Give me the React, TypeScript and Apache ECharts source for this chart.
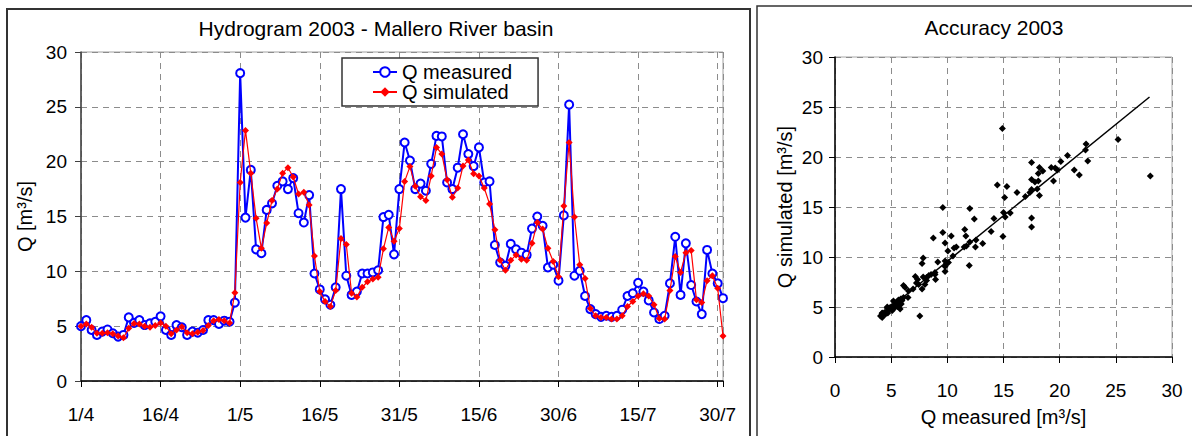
import React, { useEffect, useRef } from "react";
import * as echarts from "echarts";

const dayLabels = ["1/4", "16/4", "1/5", "16/5", "31/5", "15/6", "30/6", "15/7", "30/7"];

const measured = [
  5.0, 5.55, 4.65, 4.2, 4.5, 4.7, 4.35, 4.05, 4.2, 5.8,
  5.3, 5.55, 5.1, 5.25, 5.4, 5.9, 4.65, 4.2, 5.1, 4.9,
  4.2, 4.5, 4.4, 4.65, 5.55, 5.55, 5.2, 5.5, 5.4, 7.15,
  28.07, 14.9, 19.25, 12.0, 11.65, 15.6, 16.2, 17.8, 18.2, 17.5,
  18.5, 15.3, 14.45, 16.95, 9.8, 8.35, 7.45, 6.95, 8.55, 17.5,
  9.6, 7.85, 8.15, 9.8, 9.8, 9.9, 10.1, 14.95, 15.15, 11.55,
  17.5, 21.75, 20.1, 17.5, 18.0, 17.35, 19.8, 22.35, 22.3, 18.1,
  17.5, 19.45, 22.5, 20.7, 19.6, 21.3, 18.1, 18.2, 12.4, 10.8,
  10.5, 12.5, 12.0, 11.7, 11.5, 13.9, 15.0, 14.15, 10.35, 10.6,
  9.15, 15.1, 25.2, 9.6, 10.05, 7.75, 6.55, 6.1, 5.85, 5.95,
  5.85, 5.95, 6.5, 7.75, 8.0, 8.95, 8.15, 7.35, 6.25, 5.65,
  5.95, 8.9, 13.15, 7.85, 12.55, 8.75, 7.25, 6.1, 11.95, 9.8,
  8.9, 7.55,
];

const simulated = [
  5.0, 5.2, 4.9, 4.35, 4.35, 4.4, 4.3, 4.1, 3.95, 4.8,
  5.25, 5.2, 5.0, 4.9, 5.05, 5.3, 5.0, 4.3, 4.65, 4.95,
  4.4, 4.3, 4.45, 4.6, 5.05, 5.5, 5.6, 5.5, 5.3, 8.05,
  18.1, 22.85, 18.95, 14.85, 12.1, 14.4, 16.45, 17.5, 18.95, 19.45,
  18.6, 17.05, 17.2, 16.05, 11.4, 8.15, 7.25, 6.8, 8.25, 13.0,
  12.45, 8.0, 7.65, 8.55, 9.05, 9.3, 9.45, 12.05, 14.0, 12.75,
  13.9, 18.2, 19.55, 17.75, 16.8, 16.45, 18.7, 21.3, 20.7, 18.35,
  16.75, 17.6, 19.6, 20.15, 18.9, 18.7, 17.6, 16.15, 13.8, 11.0,
  10.1, 11.0, 11.5, 11.1, 11.0, 12.55, 14.45, 13.85, 12.1, 10.9,
  9.5, 15.95, 21.75, 14.95, 10.6, 9.35, 6.6, 5.95, 5.8, 5.8,
  5.65, 5.65, 5.95, 6.8, 7.25, 7.75, 7.95, 7.75, 6.95, 5.7,
  5.65, 8.25, 11.35, 9.9, 11.7, 11.9, 7.4, 7.15, 9.15, 9.6,
  8.45, 4.1,
];

const trendX = [3.9, 28.0];
const trendY = [4.0, 26.0];

const titleLeft = "Hydrogram 2003 - Mallero River basin";
const titleRight = "Accuracy 2003";
const seriesNames = ["Q measured", "Q simulated"];

const FONT = "'Liberation Sans', Arial, sans-serif";

export default function App() {
  const ref = useRef<HTMLDivElement>(null);

  useEffect(() => {
    document.body.style.margin = "0";
    const chart = echarts.init(ref.current!, null, { renderer: "svg" });

    const dash = [6, 5];
    const gridLine = { show: true, lineStyle: { color: "#8c8c8c", width: 1, type: dash } };

    const option: any = {
      animation: false,
      textStyle: { fontFamily: FONT, color: "#000" },
      grid: [
        { left: 81, top: 52, width: 642, height: 329, show: true, borderColor: "#a0a0a0", borderWidth: 1, containLabel: false },
        { left: 835, top: 57, width: 337, height: 300, show: true, borderColor: "#a8a8a8", borderWidth: 1, containLabel: false },
      ],
      xAxis: [
        {
          gridIndex: 0,
          type: "value",
          min: 0,
          max: 121,
          interval: 15,
          axisLine: { show: true, onZero: false, lineStyle: { color: "#000", width: 1.5 } },
          axisTick: { show: true, length: 6, lineStyle: { color: "#000" } },
          axisLabel: {
            fontSize: 19,
            color: "#000",
            fontFamily: FONT,
            margin: 24,
            showMaxLabel: true,
            formatter: (v: number) => (v % 15 === 0 && dayLabels[v / 15] ? dayLabels[v / 15] : ""),
          },
          splitLine: gridLine,
        },
        {
          gridIndex: 1,
          type: "value",
          min: 0,
          max: 30,
          interval: 5,
          name: "Q measured [m³/s]",
          nameLocation: "middle",
          nameGap: 50,
          nameTextStyle: { fontSize: 20, color: "#000", fontFamily: FONT },
          axisLine: { show: true, onZero: false, lineStyle: { color: "#000", width: 1.5 } },
          axisTick: { show: true, length: 6, lineStyle: { color: "#000" } },
          axisLabel: { fontSize: 19, color: "#000", fontFamily: FONT, margin: 24 },
          splitLine: gridLine,
        },
      ],
      yAxis: [
        {
          gridIndex: 0,
          type: "value",
          min: 0,
          max: 30,
          interval: 5,
          name: "Q [m³/s]",
          nameLocation: "middle",
          nameGap: 42,
          nameTextStyle: { fontSize: 20, color: "#000", fontFamily: FONT },
          axisLine: { show: true, onZero: false, lineStyle: { color: "#404040", width: 1.5 } },
          axisTick: { show: true, length: 6, lineStyle: { color: "#404040" } },
          axisLabel: { fontSize: 19, color: "#000", fontFamily: FONT, margin: 14 },
          splitLine: gridLine,
        },
        {
          gridIndex: 1,
          type: "value",
          min: 0,
          max: 30,
          interval: 5,
          name: "Q simulated [m³/s]",
          nameLocation: "middle",
          nameGap: 40,
          nameTextStyle: { fontSize: 20, color: "#000", fontFamily: FONT },
          axisLine: { show: true, onZero: false, lineStyle: { color: "#000", width: 1.5 } },
          axisTick: { show: true, length: 6, lineStyle: { color: "#000" } },
          axisLabel: { fontSize: 19, color: "#000", fontFamily: FONT, margin: 12 },
          splitLine: gridLine,
        },
      ],
      legend: {
        data: seriesNames,
        orient: "vertical",
        left: 342,
        top: 58,
        itemWidth: 24,
        itemHeight: 12,
        itemGap: 0,
        padding: [4, 26, 4, 30],
        borderColor: "#333",
        borderWidth: 1.5,
        backgroundColor: "#fff",
        textStyle: { fontSize: 20, color: "#000", fontFamily: FONT },
      },
      series: [
        {
          name: seriesNames[0],
          type: "line",
          xAxisIndex: 0,
          yAxisIndex: 0,
          data: measured.map((v, i) => [i, v]),
          symbol: "emptyCircle",
          symbolSize: 8,
          lineStyle: { color: "#0000ff", width: 2 },
          itemStyle: { color: "#0000ff", borderColor: "#0000ff", borderWidth: 1.2 },
          z: 3,
        },
        {
          name: seriesNames[1],
          type: "line",
          xAxisIndex: 0,
          yAxisIndex: 0,
          data: simulated.map((v, i) => [i, v]),
          symbol: "diamond",
          symbolSize: 7,
          lineStyle: { color: "#ff0000", width: 1.2 },
          itemStyle: { color: "#ff0000" },
          z: 4,
        },
        {
          name: "pairs",
          type: "scatter",
          xAxisIndex: 1,
          yAxisIndex: 1,
          data: measured.map((m, i) => [m, simulated[i]]),
          symbol: "diamond",
          symbolSize: 7,
          itemStyle: { color: "#000", opacity: 1 },
        },
        {
          name: "fit",
          type: "line",
          xAxisIndex: 1,
          yAxisIndex: 1,
          data: trendX.map((x, i) => [x, trendY[i]]),
          symbol: "none",
          lineStyle: { color: "#000", width: 1.5 },
        },
      ],
      graphic: [
        { type: "rect", shape: { x: 7, y: 9, width: 743, height: 440 }, style: { fill: "none", stroke: "#333", lineWidth: 2 }, silent: true },
        { type: "rect", shape: { x: 757, y: 6, width: 460, height: 440 }, style: { fill: "none", stroke: "#333", lineWidth: 1.5 }, silent: true },
        { type: "text", x: 376, y: 28, style: { text: titleLeft, fontSize: 21, fontFamily: FONT, fill: "#000", align: "center", verticalAlign: "middle" } },
        { type: "text", x: 994, y: 27, style: { text: titleRight, fontSize: 21, fontFamily: FONT, fill: "#000", align: "center", verticalAlign: "middle" } },
      ],
    };

    chart.setOption(option);
    return () => chart.dispose();
  }, []);

  return <div ref={ref} style={{ width: 1192, height: 436 }} />;
}
